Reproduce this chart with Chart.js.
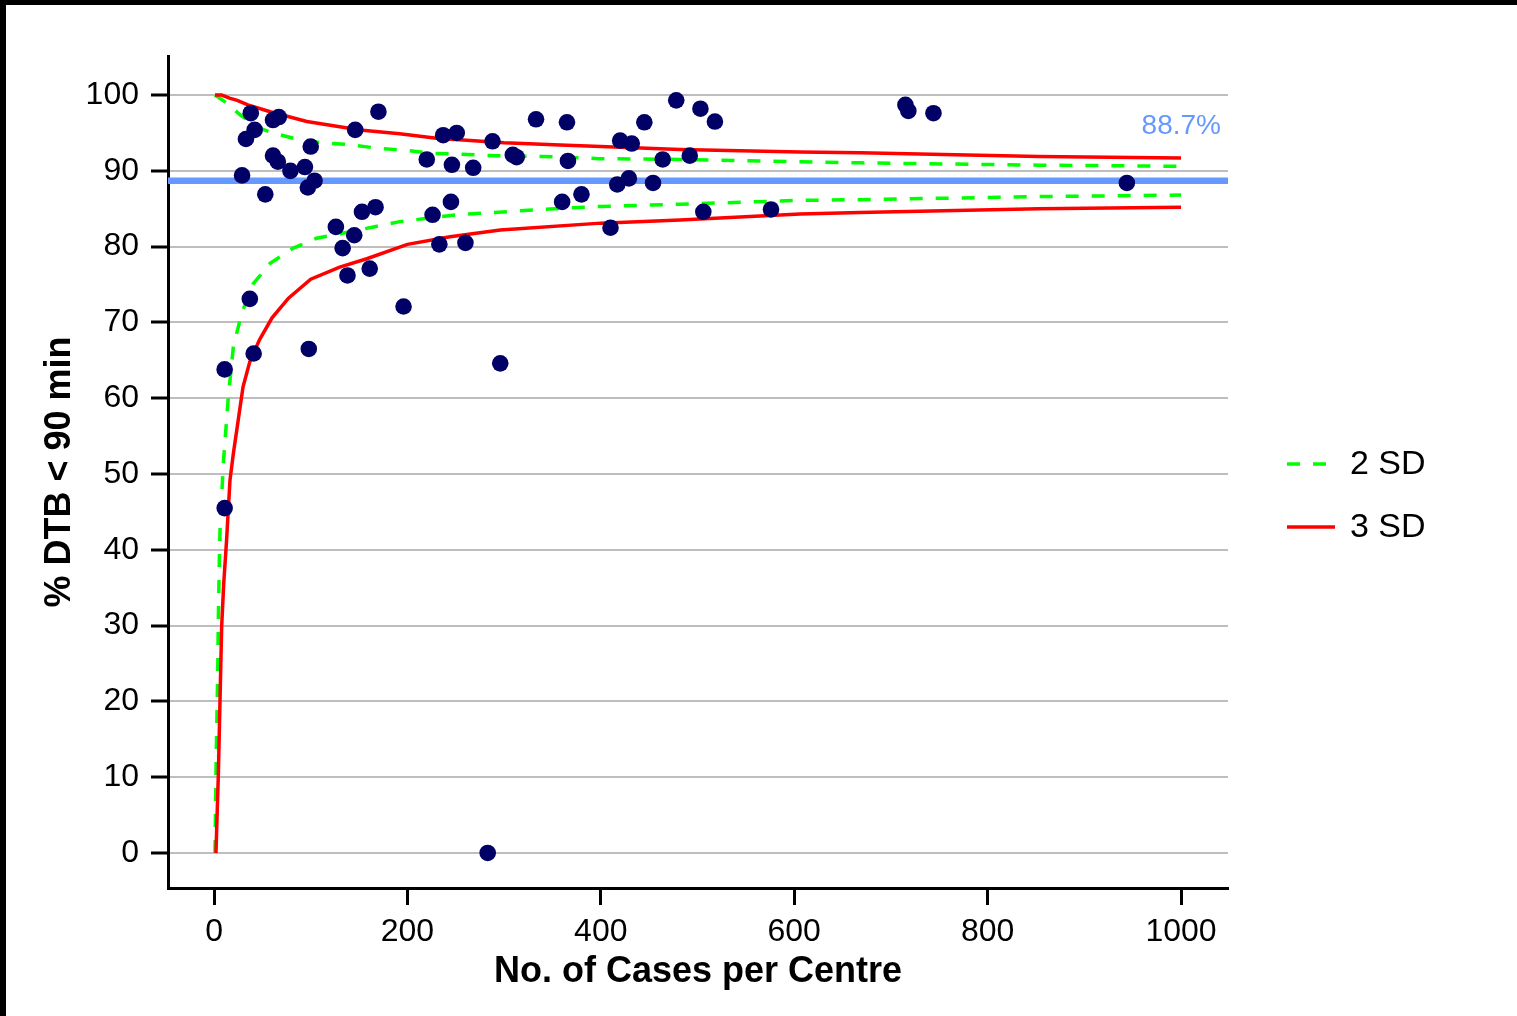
<!DOCTYPE html>
<html>
<head>
<meta charset="utf-8">
<script src="https://cdn.jsdelivr.net/npm/chart.js@4/dist/chart.umd.min.js"></script>
<style>
  html, body { margin:0; padding:0; background:#fff; }
  #wrap { position:relative; width:1517px; height:1016px; overflow:hidden; }
  #c { position:absolute; left:0; top:0; }
  .edge { position:absolute; background:#000; }
</style>
</head>
<body>
<div id="wrap">
  <canvas id="c" width="1517" height="1016"></canvas>
  <div class="edge" style="left:0;top:0;width:1517px;height:5px"></div>
  <div class="edge" style="left:0;top:0;width:6px;height:1016px"></div>
</div>
<script>
// ── Data ─────────────────────────────────────────────────────
const cases = [11, 11, 29, 33, 38, 42, 37, 41, 53, 61, 66, 61, 67, 79, 94, 100, 97, 104, 98, 126,
  133, 138, 145, 146, 153, 161, 167, 170, 196, 220, 226, 233, 237, 245, 246, 251, 260, 268, 283, 288,
  296, 309, 313, 333, 360, 365, 366, 380, 410, 417, 420, 429, 432, 445, 454, 464, 478, 492, 503, 506,
  518, 576, 715, 718, 744, 944];
const pctDTB = [63.8, 45.5, 89.4, 94.2, 97.6, 95.4, 73.1, 65.9, 86.9, 92.0, 91.2, 96.7, 97.1, 90.0, 90.5, 93.2, 87.8, 88.7, 66.5, 82.6,
  79.8, 76.2, 81.5, 95.4, 84.6, 77.1, 85.2, 97.8, 72.1, 91.5, 84.2, 80.3, 94.7, 85.9, 90.8, 95.0, 80.5, 90.4, 0, 93.9,
  64.6, 92.1, 91.8, 96.8, 85.9, 96.4, 91.3, 86.9, 82.5, 88.2, 94.0, 89.0, 93.6, 96.4, 88.4, 91.5, 99.3, 92.0, 98.2, 84.6,
  96.5, 84.9, 98.7, 97.9, 97.6, 88.4];

// 2 SD limits
const sd2LowerN = [1, 2, 2.8, 3.8, 4.5, 5.5, 6.2, 9.6, 14.8, 20, 28.6, 40.6, 58, 82, 106, 130, 165, 192, 251, 289, 337, 399, 482, 606, 668, 853, 1000];
const sd2Lower  = [0, 10.5, 16.7, 23.7, 31.4, 38.7, 42.6, 51.4, 60.2, 66.8, 71.2, 75.1, 77.8, 79.8, 81.1, 81.7, 82.6, 83.3, 84.2, 84.5, 84.9, 85.3, 85.6, 86.1, 86.2, 86.6, 86.8];
const sd2UpperN = [1, 11.4, 27, 47.6, 61, 82, 110, 137, 168, 199, 227, 254, 289, 340, 399, 482, 606, 668, 853, 1000];
const sd2Upper  = [100, 99.1, 97.4, 95.6, 95.0, 94.3, 93.7, 93.5, 93.0, 92.7, 92.3, 92.2, 92.0, 91.9, 91.6, 91.5, 91.2, 91.05, 90.75, 90.6];

// 3 SD limits
const sd3LowerN = [2, 4.5, 6.2, 7.9, 10, 13, 16.5, 20, 25, 30, 37, 47, 60, 77, 100, 130, 158, 200, 244, 296, 400, 482, 606, 668, 853, 1000];
const sd3Lower  = [0, 10.5, 20.2, 29.9, 35.5, 41.3, 49.2, 52.7, 57.1, 61.5, 64.8, 67.7, 70.6, 73.2, 75.7, 77.3, 78.4, 80.3, 81.3, 82.2, 83.1, 83.5, 84.3, 84.5, 85.0, 85.2];
const sd3UpperN = [1, 8, 16, 24, 35, 58, 96, 151, 192, 230, 300, 358, 400, 482, 606, 668, 853, 1000];
const sd3Upper  = [100, 100, 99.6, 99.3, 98.7, 97.8, 96.5, 95.4, 94.9, 94.3, 93.7, 93.4, 93.2, 92.8, 92.5, 92.4, 91.9, 91.7];

const target = 88.7;
const targetLabel = '88.7%';
const legendOrder = ['2 SD', '3 SD'];
const xTicks = [0, 200, 400, 600, 800, 1000];
const yTicks = [0, 10, 20, 30, 40, 50, 60, 70, 80, 90, 100];
const xRange = [-47.6, 1048.6];
const yRange = [-4.62, 105.15];

// ── Styles ───────────────────────────────────────────────────
const C = { dot:'#000066', sd2:'#00ff00', sd3:'#ff0000', target:'#6699ff', grid:'#bebebe', axis:'#000000' };
const FONT = '"Liberation Sans", Arial, sans-serif';

const pts = (xs, ys) => xs.map((x, i) => ({ x, y: ys[i] }));
const curve = (label, xs, ys, color, dash, order) => ({
  type:'line', label, data: pts(xs, ys), showLine:true, borderColor:color, backgroundColor:color,
  borderWidth:3.5, borderDash:dash, pointRadius:0, pointHoverRadius:0, fill:false, tension:0, order
});

// legend + target label
const overlay = {
  id:'overlay',
  afterDraw(chart) {
    const { ctx, scales:{ y } } = chart;
    ctx.save();
    ctx.font = `28px ${FONT}`;
    ctx.fillStyle = C.target; ctx.textAlign = 'right'; ctx.textBaseline = 'alphabetic';
    ctx.fillText(targetLabel, 1221, y.getPixelForValue(target) - 47);

    legendOrder.forEach((name, i) => {
      const d = chart.data.datasets.find(ds => ds.label === name);
      const ly = 464 + i * 63;
      ctx.strokeStyle = d.borderColor; ctx.lineWidth = d.borderWidth; ctx.setLineDash(d.borderDash || []);
      ctx.beginPath(); ctx.moveTo(1287, ly); ctx.lineTo(1335, ly); ctx.stroke();
      ctx.setLineDash([]);
      ctx.fillStyle = '#000'; ctx.textAlign = 'left'; ctx.textBaseline = 'middle';
      ctx.font = `34px ${FONT}`;
      ctx.fillText(d.label, 1350, ly + 1);
    });
    ctx.restore();
  }
};

new Chart(document.getElementById('c').getContext('2d'), {
  type:'scatter',
  data:{ datasets:[
    { label:'Centres', data: pts(cases, pctDTB), backgroundColor:C.dot, borderColor:C.dot, borderWidth:0,
      pointRadius:8.3, pointHoverRadius:8.3, order:0 },
    curve('3 SD', sd3LowerN, sd3Lower, C.sd3, [], 1),
    curve('3 SD upper', sd3UpperN, sd3Upper, C.sd3, [], 1),
    curve('2 SD', sd2LowerN, sd2Lower, C.sd2, [13, 13], 2),
    curve('2 SD upper', sd2UpperN, sd2Upper, C.sd2, [13, 13], 2),
    { type:'line', label:'Target', data:[{ x:xRange[0], y:target }, { x:xRange[1], y:target }], showLine:true,
      borderColor:C.target, borderWidth:6.5, pointRadius:0, fill:false, order:5 }
  ] },
  options:{
    responsive:false, animation:false, devicePixelRatio:1,
    layout:{ padding:{ left:0, top:56, right:289, bottom:0 } },
    plugins:{ legend:{ display:false }, tooltip:{ enabled:false } },
    scales:{
      x:{
        type:'linear', min:xRange[0], max:xRange[1],
        afterBuildTicks: s => { s.ticks = xTicks.map(v => ({ value:v })); },
        afterFit: s => { s.height = 128; },
        ticks:{ color:'#000', font:{ family:FONT, size:32 }, padding:8, maxRotation:0, autoSkip:false,
          callback: v => String(v) },
        grid:{ drawOnChartArea:false, drawTicks:true, tickLength:17, tickWidth:3, tickColor:C.axis },
        border:{ display:true, color:C.axis, width:3 },
        title:{ display:true, text:'No. of Cases per Centre', color:'#000',
          font:{ family:FONT, size:36, weight:'bold' }, padding:{ top:0, bottom:22 } }
      },
      y:{
        type:'linear', min:yRange[0], max:yRange[1],
        afterBuildTicks: s => { s.ticks = yTicks.map(v => ({ value:v })); },
        afterFit: s => { s.width = 168; },
        ticks:{ color:'#000', font:{ family:FONT, size:32 }, padding:12, autoSkip:false,
          callback: v => String(v) },
        grid:{ color:C.grid, lineWidth:2, drawTicks:true, tickLength:17, tickWidth:3, tickColor:C.axis },
        border:{ display:true, color:C.axis, width:3 },
        title:{ display:true, text:'% DTB < 90 min', color:'#000',
          font:{ family:FONT, size:36, weight:'bold' }, padding:{ top:38, bottom:0 } }
      }
    }
  },
  plugins:[overlay]
});
</script>
</body>
</html>
